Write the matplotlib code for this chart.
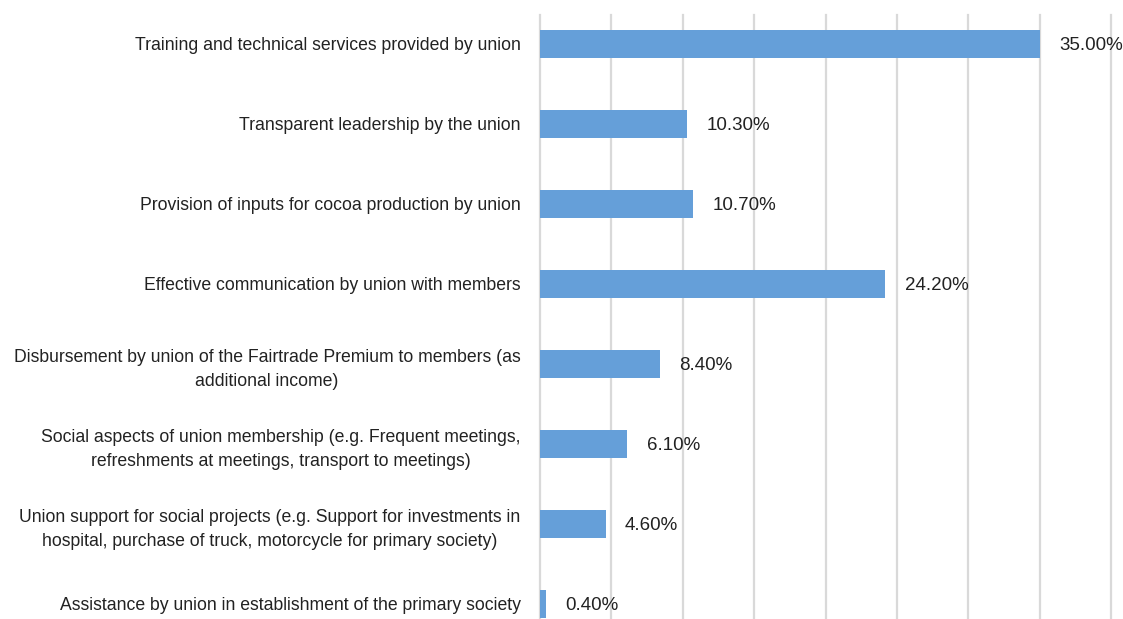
import matplotlib
matplotlib.use("Agg")
import matplotlib.pyplot as plt
from matplotlib.ticker import MultipleLocator

# Reasons for satisfaction with the union (share of respondents)
categories = [
    "Training and technical services provided by union",
    "Transparent leadership by the union",
    "Provision of inputs for cocoa production by union",
    "Effective communication by union with members",
    "Disbursement by union of the Fairtrade Premium to members (as\nadditional income)",
    "Social aspects of union membership (e.g. Frequent meetings,\nrefreshments at meetings, transport to meetings)",
    "Union support for social projects (e.g. Support for investments in\nhospital, purchase of truck, motorcycle for primary society)",
    "Assistance by union in establishment of the primary society",
]
shares = [0.350, 0.103, 0.107, 0.242, 0.084, 0.061, 0.046, 0.004]

BAR_COLOR = "#659fd9"
GRID_COLOR = "#d9d9d9"
TEXT_COLOR = "#222222"

plt.rcParams['font.family'] = ['Liberation Sans', 'DejaVu Sans']

fig = plt.figure(figsize=(11.23, 6.19), dpi=100)
ax = fig.add_axes([540 / 1123, 0.0, (1111 - 540) / 1123, 1 - 15 / 619])

y = list(range(len(categories)))
ax.barh(y, shares, height=0.35, color=BAR_COLOR, zorder=3)

# value labels right of each bar
for yi, v in zip(y, shares):
    ax.annotate(f"{v * 100:.2f}%", xy=(v, yi), xytext=(14, -1),
                textcoords="offset points", va="center", ha="left",
                fontsize=13.5, color=TEXT_COLOR)

ax.set_xlim(0, 0.40)
ax.set_ylim(7.19, -0.36)
ax.xaxis.set_major_locator(MultipleLocator(0.05))
ax.grid(axis="x", color=GRID_COLOR, linewidth=1.6, zorder=0)
for gl in ax.get_xgridlines():
    gl.set_clip_on(False)
ax.tick_params(axis="x", length=0, labelbottom=False)
ax.tick_params(axis="y", length=0, pad=14)
ax.set_yticks(y)
ax.set_yticklabels(categories, fontsize=12.7, color=TEXT_COLOR,
                   multialignment="center", linespacing=1.55)
for side in ["top", "right", "bottom", "left"]:
    ax.spines[side].set_visible(False)

plt.savefig("out.png", dpi=100)
